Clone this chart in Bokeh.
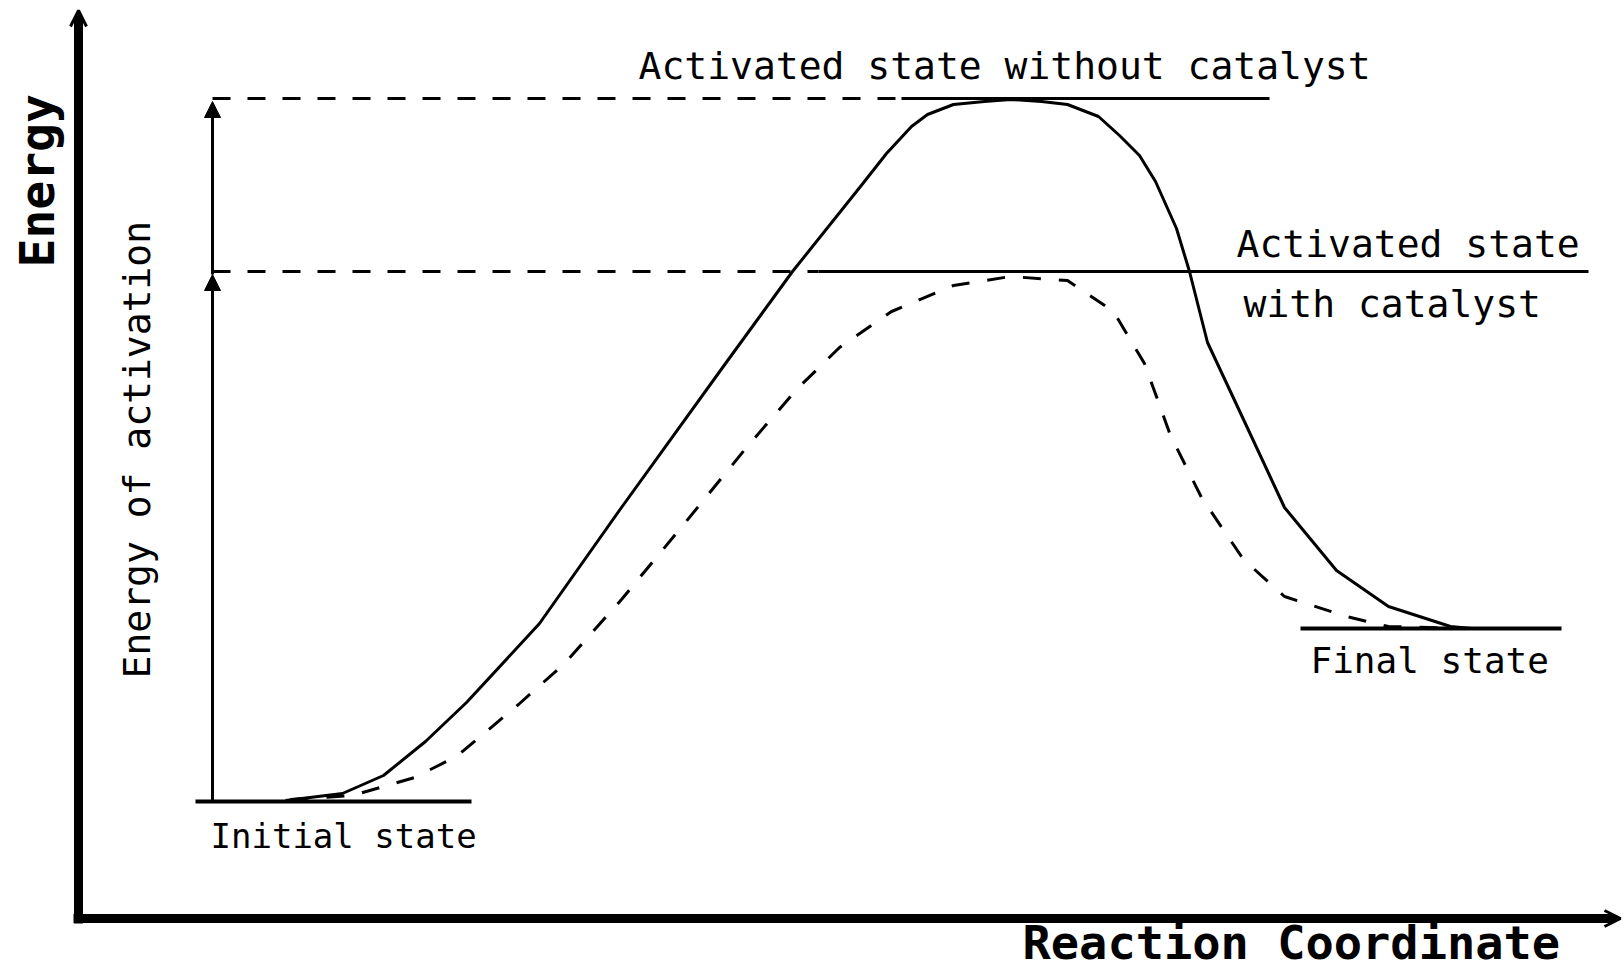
import numpy as np
from bokeh.plotting import figure
from bokeh.models import Range1d, Arrow, OpenHead, NormalHead, Label
from bokeh.embed import file_html
from bokeh.resources import INLINE

# ---- data (reaction coordinate, energy) ----
uncat_x = [207, 264, 305, 347, 388, 461, 543, 647, 714, 782, 808, 833, 849, 875, 906,
           932, 963, 989, 1020, 1041, 1061, 1077, 1098, 1111, 1129, 1165, 1206, 1258,
           1310, 1372, 1393]
uncat_e = [118, 125, 143, 177, 216, 295, 411, 555, 647, 732, 765, 792, 804, 814, 817,
           819, 817, 814, 802, 783, 763, 737, 690, 647, 576, 499, 411, 348,
           312, 292, 290]

cat_x = [212, 274, 336, 378, 440, 486, 543, 606, 668, 719, 761, 813, 875,
         932, 989, 1035, 1066, 1092, 1123, 1165, 1206, 1268, 1310, 1382]
cat_e = [119, 123, 141, 162, 214, 255, 319, 395, 471, 530, 571, 607, 633,
         642, 638, 607, 555, 483, 421, 359, 322, 302, 292, 290]

level_energy = {"initial": 117, "final": 290, "with": 647, "without": 820}
initial_span = [117, 393]
final_span = [1222, 1483]
without_dash = [134, 823]
without_solid = [823, 1191]
with_dash = [134, 740]
with_solid = [740, 1510]
activation_x = 134

labels = ["Activated state without catalyst", "Activated state", "with catalyst",
          "Final state", "Initial state"]
label_x = [560, 1158, 1165, 1232, 132]
label_e = [853, 675, 615, 258, 83]
label_size = ["38px", "38px", "38px", "36px", "34px"]

p = figure(width=1624, height=973, x_range=Range1d(-78, 1546), y_range=Range1d(-55, 918),
           output_backend="svg", toolbar_location=None, min_border=0)
p.axis.visible = False
p.grid.visible = False
p.outline_line_color = None
p.background_fill_color = "white"

# axes
p.add_layout(Arrow(end=OpenHead(size=16, line_width=3), x_start=0, y_start=-5, x_end=0, y_end=908,
                   line_width=9, line_color="black"))
p.add_layout(Arrow(end=OpenHead(size=16, line_width=3), x_start=-5, y_start=0, x_end=1542, y_end=0,
                   line_width=9, line_color="black"))

# levels
p.line(initial_span, [level_energy["initial"]] * 2, line_width=4, color="black")
p.line(final_span, [level_energy["final"]] * 2, line_width=4, color="black")
p.line(without_dash, [level_energy["without"]] * 2, line_width=3, color="black", line_dash="18 17")
p.line(without_solid, [level_energy["without"]] * 2, line_width=3, color="black")
p.line(with_dash, [level_energy["with"]] * 2, line_width=3, color="black", line_dash="18 17")
p.line(with_solid, [level_energy["with"]] * 2, line_width=3, color="black")

# curves
p.line(uncat_x, uncat_e, line_width=3, color="black", line_join="round")
p.line(cat_x, cat_e, line_width=3, color="black", line_dash="18 18")

# activation arrows
p.add_layout(Arrow(end=NormalHead(size=16, fill_color="black", line_color="black"),
                   x_start=activation_x, y_start=level_energy["initial"],
                   x_end=activation_x, y_end=level_energy["with"] - 3, line_width=3))
p.add_layout(Arrow(end=NormalHead(size=16, fill_color="black", line_color="black"),
                   x_start=activation_x, y_start=level_energy["with"] - 3,
                   x_end=activation_x, y_end=level_energy["without"] - 3, line_width=3))

font = "DejaVu Sans Mono"
for t, x, y, s in zip(labels, label_x, label_e, label_size):
    p.add_layout(Label(x=x, y=y, text=t, text_font=font, text_font_size=s,
                       text_baseline="alphabetic", text_align="left", text_color="black"))

p.add_layout(Label(x=58, y=240, text="Energy of activation", angle=np.pi / 2,
                   text_font=font, text_font_size="38px", text_baseline="alphabetic",
                   text_align="left", text_color="black"))
p.add_layout(Label(x=-42, y=651, text="Energy", angle=np.pi / 2, text_font=font,
                   text_font_style="bold", text_font_size="48px", text_baseline="alphabetic",
                   text_align="left", text_color="black"))
p.add_layout(Label(x=944, y=-24, text="Reaction Coordinate", text_font=font,
                   text_font_style="bold", text_font_size="47px", text_baseline="alphabetic",
                   text_align="left", text_color="black"))

open("out.html", "w").write(file_html(p, INLINE))
